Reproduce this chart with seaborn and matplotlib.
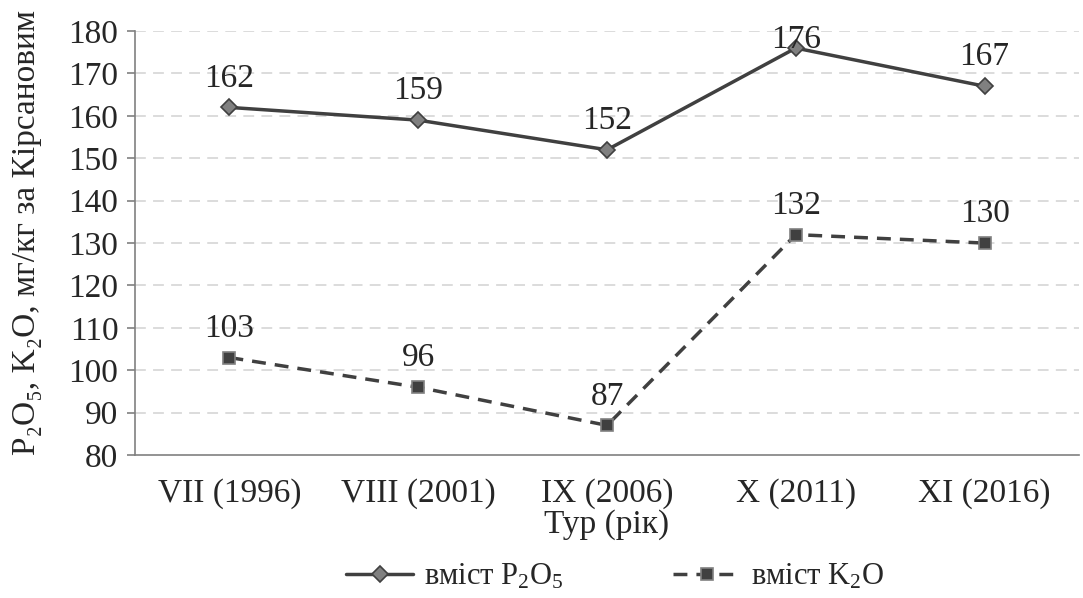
import matplotlib
matplotlib.use("Agg")
import matplotlib.pyplot as plt
import seaborn as sns
import pandas as pd

categories = ["VII (1996)", "VIII (2001)", "IX (2006)", "X (2011)", "XI (2016)"]
p2o5 = [162, 159, 152, 176, 167]
k2o = [103, 96, 87, 132, 130]
yticks = [80, 90, 100, 110, 120, 130, 140, 150, 160, 170, 180]

sns.set_theme(style="white")
plt.rcParams['font.family'] = ['Liberation Serif', 'DejaVu Serif']
plt.rcParams['mathtext.fontset'] = 'custom'
plt.rcParams['mathtext.rm'] = 'Liberation Serif'
plt.rcParams['mathtext.it'] = 'Liberation Serif'

FS = 24

fig = plt.figure(figsize=(10.83, 5.98), dpi=100)
ax = fig.add_axes([0.1247, 0.239, 0.8716, 0.709])

df = pd.DataFrame({"x": list(range(len(categories))), "p": p2o5, "k": k2o})

sns.lineplot(data=df, x="x", y="p", ax=ax, color="#404040", lw=2.5,
             marker="D", markersize=8, markerfacecolor="#808080",
             markeredgecolor="#404040", markeredgewidth=1.2,
             label="вміст P$_2$O$_5$", legend=False)
sns.lineplot(data=df, x="x", y="k", ax=ax, color="#404040", lw=2.5,
             marker="s", markersize=9, markerfacecolor="#404040",
             markeredgecolor="#808080", markeredgewidth=1.2,
             linestyle=(0, (4, 2.6)), label="вміст K$_2$O", legend=False)

ymax = 180
for series in (p2o5, k2o):
    for i, v in enumerate(series):
        if v > ymax - 6:
            # label kept inside the plot area, sits right on the point
            ax.annotate(str(v), (i, v), xytext=(0, 0), textcoords="offset points",
                        ha="center", va="baseline", fontsize=FS)
        else:
            ax.annotate(str(v), (i, v), xytext=(0, 10), textcoords="offset points",
                        ha="center", va="bottom", fontsize=FS)

ax.set_xlim(-0.5, len(categories) - 0.5)
ax.set_ylim(80, ymax)
ax.set_yticks(yticks)
ax.set_yticklabels([str(t) for t in yticks], fontsize=FS)
ax.set_xticks(range(len(categories)))
ax.set_xticklabels(categories, fontsize=FS)
ax.set_xticks([i + 0.5 for i in range(-1, len(categories))], minor=True)
ax.tick_params(axis="x", which="major", length=0, pad=17)
ax.tick_params(axis="x", which="minor", length=6, width=1.2, color="#808080", direction="out")
ax.tick_params(axis="y", length=6, width=1.2, color="#808080", direction="out", left=True, pad=6)

for y in yticks[1:]:
    ax.axhline(y, color="#d9d9d9", lw=1.3, ls=(0, (6, 4)), zorder=0)

for s in ["top", "right"]:
    ax.spines[s].set_visible(False)
for s in ["left", "bottom"]:
    ax.spines[s].set_color("#808080")
    ax.spines[s].set_linewidth(1.2)

ax.set_xlabel("Тур (рік)", fontsize=FS, labelpad=0)
ax.set_ylabel("P₂O₅, K₂O, мг/кг за Кірсановим", fontsize=FS)
ax.yaxis.set_label_coords(-0.099, 0.526)

handles, labels = ax.get_legend_handles_labels()
fig.legend(handles, labels, loc="center", bbox_to_anchor=(0.568, 0.035), ncol=2,
           frameon=False, fontsize=22, handlelength=2.2, columnspacing=3.6,
           handletextpad=0.35, borderaxespad=0)

fig.savefig("out.png", dpi=100)
